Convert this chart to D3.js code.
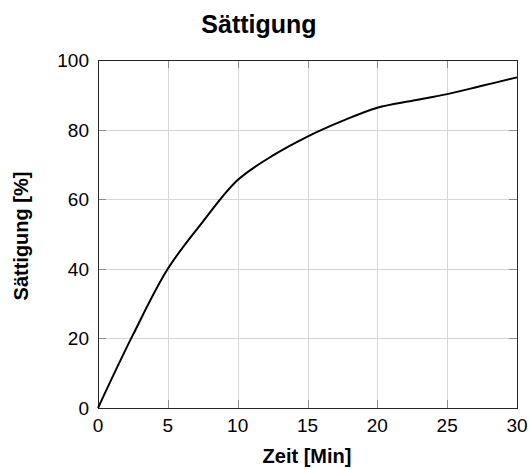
<!DOCTYPE html>
<html>
<head>
<meta charset="utf-8">
<script src="https://cdn.jsdelivr.net/npm/d3@7"></script>
<style>
  body { margin: 0; background: #fff; }
  text { font-family: "Liberation Sans", Arial, Helvetica, sans-serif; }
</style>
</head>
<body>
<div id="chart"></div>
<script>
// data
const zeit = [0, 2.5, 5, 7.5, 10, 12.5, 15, 17.5, 20, 22.5, 25, 27.5, 30];
const saettigung = [0, 21, 40, 53.5, 65.5, 72.5, 78, 82.5, 86.3, 88.3, 90.2, 92.6, 95];
const xTicks = [0, 5, 10, 15, 20, 25, 30];
const yTicks = [0, 20, 40, 60, 80, 100];
const titleText = "Sättigung";
const xLabelText = "Zeit [Min]";
const yLabelText = "Sättigung [%]";

const W = 530, H = 469;
const pLeft = 98, pRight = 517, pTop = 60, pBottom = 408;

var svg = d3.select("#chart").append("svg")
  .attr("width", W)
  .attr("height", H);

var x = d3.scaleLinear().domain([0, 30]).range([pLeft, pRight]);
var y = d3.scaleLinear().domain([0, 100]).range([pBottom, pTop]);

// grid
svg.append("g").selectAll("line").data(xTicks).join("line")
  .attr("x1", d => Math.round(x(d)) + 0.5).attr("x2", d => Math.round(x(d)) + 0.5)
  .attr("y1", pTop).attr("y2", pBottom)
  .attr("stroke", "#d6d6d6").attr("stroke-width", 1);
svg.append("g").selectAll("line").data(yTicks).join("line")
  .attr("y1", d => Math.round(y(d)) + 0.5).attr("y2", d => Math.round(y(d)) + 0.5)
  .attr("x1", pLeft).attr("x2", pRight)
  .attr("stroke", "#d6d6d6").attr("stroke-width", 1);

// inward ticks on all four sides
var tk = 8;
var ticks = svg.append("g").attr("stroke", "#8c8c8c").attr("stroke-width", 1);
xTicks.forEach(function(d){
  var px = Math.round(x(d)) + 0.5;
  ticks.append("line").attr("x1", px).attr("x2", px).attr("y1", pBottom).attr("y2", pBottom - tk);
  ticks.append("line").attr("x1", px).attr("x2", px).attr("y1", pTop).attr("y2", pTop + tk);
});
yTicks.forEach(function(d){
  var py = Math.round(y(d)) + 0.5;
  ticks.append("line").attr("y1", py).attr("y2", py).attr("x1", pLeft).attr("x2", pLeft + tk);
  ticks.append("line").attr("y1", py).attr("y2", py).attr("x1", pRight).attr("x2", pRight - tk);
});

// box
svg.append("rect")
  .attr("x", pLeft + 0.5).attr("y", pTop + 0.5)
  .attr("width", pRight - pLeft).attr("height", pBottom - pTop)
  .attr("fill", "none").attr("stroke", "#262626").attr("stroke-width", 1);

// tick labels
svg.append("g").selectAll("text").data(xTicks).join("text")
  .attr("x", d => x(d)).attr("y", 432)
  .attr("text-anchor", "middle")
  .style("font-size", "19px")
  .text(d => d);
svg.append("g").selectAll("text").data(yTicks).join("text")
  .attr("x", pLeft - 9).attr("y", d => y(d) + 7)
  .attr("text-anchor", "end")
  .style("font-size", "19px")
  .text(d => d);

// line
var line = d3.line()
  .x((d, i) => x(zeit[i]))
  .y(d => y(d))
  .curve(d3.curveCatmullRom.alpha(0.5));
svg.append("path")
  .datum(saettigung)
  .attr("d", line)
  .attr("fill", "none")
  .attr("stroke", "#000")
  .attr("stroke-width", 2);

// labels
svg.append("text")
  .attr("x", 259).attr("y", 33)
  .attr("text-anchor", "middle")
  .style("font-size", "25px").style("font-weight", "bold")
  .text(titleText);
svg.append("text")
  .attr("x", 307).attr("y", 463)
  .attr("text-anchor", "middle")
  .style("font-size", "20px").style("font-weight", "bold")
  .text(xLabelText);
svg.append("text")
  .attr("transform", "translate(28," + ((pTop + pBottom) / 2 + 2) + ") rotate(-90)")
  .attr("text-anchor", "middle")
  .style("font-size", "20px").style("font-weight", "bold")
  .text(yLabelText);
</script>
</body>
</html>
